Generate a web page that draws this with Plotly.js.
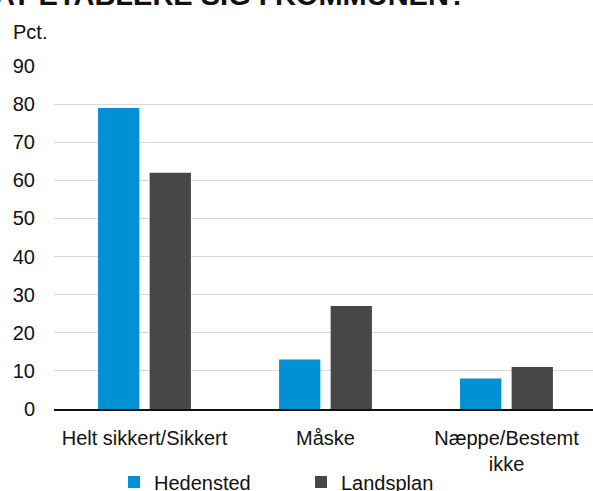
<!DOCTYPE html>
<html>
<head>
<meta charset="utf-8">
<script src="https://cdn.plot.ly/plotly-3.0.1.min.js"></script>
<style>html,body{margin:0;padding:0;background:#fff;}#chart{width:593px;height:491px;}</style>
</head>
<body>
<div id="chart"></div>
<script>
var categories = ["Helt sikkert/Sikkert", "Måske", "Næppe/Bestemt<br>ikke"];
var hedensted = [79, 13, 8];
var landsplan = [62, 27, 11];
var seriesNames = ["Hedensted", "Landsplan"];
var yTicks = [0, 10, 20, 30, 40, 50, 60, 70, 80, 90];
var titleText = "AT ETABLERE SIG I KOMMUNEN?";
var unitText = "Pct.";

var FONT = "Liberation Sans, Arial, sans-serif";

var traces = [
  {type: "bar", name: seriesNames[0], x: categories, y: hedensted,
   marker: {color: "#0091D5", line: {width: 0}}, hoverinfo: "none"},
  {type: "bar", name: seriesNames[1], x: categories, y: landsplan,
   marker: {color: "#474747", line: {width: 0}}, hoverinfo: "none"}
];

var layout = {
  width: 593, height: 491,
  margin: {l: 54, r: 0, t: 66, b: 82, pad: 0},
  paper_bgcolor: "#fff", plot_bgcolor: "#fff",
  font: {family: FONT, size: 20, color: "#111"},
  barmode: "group",
  bargap: 0.43,
  bargroupgap: 0.2,
  showlegend: true,
  legend: {
    orientation: "h", xref: "container", yref: "container",
    x: 114 / 593, xanchor: "left", y: (491 - 482) / 491, yanchor: "middle",
    font: {family: FONT, size: 20, color: "#111"},
    entrywidth: 142, entrywidthmode: "pixels",
    bgcolor: "rgba(0,0,0,0)", borderwidth: 0, traceorder: "normal"
  },
  xaxis: {
    type: "category", range: [-0.5, 2.478], showgrid: false,
    showline: true, linecolor: "#111", linewidth: 2,
    ticks: "", ticklabelstandoff: 10, tickfont: {family: FONT, size: 20, color: "#111"},
    fixedrange: true
  },
  yaxis: {
    range: [0, 90], tickvals: yTicks, showgrid: true, gridcolor: "#D9D9D9", gridwidth: 1,
    zeroline: false, showline: false, ticks: "", ticklabelstandoff: 18,
    tickfont: {family: FONT, size: 20, color: "#111"}, fixedrange: true
  },
  annotations: [
    {text: unitText, xref: "paper", yref: "paper", x: 0, xshift: -43, xanchor: "left",
     y: 1, yshift: 21, yanchor: "bottom", showarrow: false,
     font: {family: FONT, size: 20, color: "#111"}},
    {text: "<b>" + titleText + "</b>", xref: "paper", yref: "paper", x: 0, xshift: -62, xanchor: "left",
     y: 1, yshift: 53, yanchor: "bottom", showarrow: false,
     font: {family: FONT, size: 29, color: "#111"}}
  ]
};

Plotly.newPlot("chart", traces, layout, {displayModeBar: false, staticPlot: true});
</script>
</body>
</html>
